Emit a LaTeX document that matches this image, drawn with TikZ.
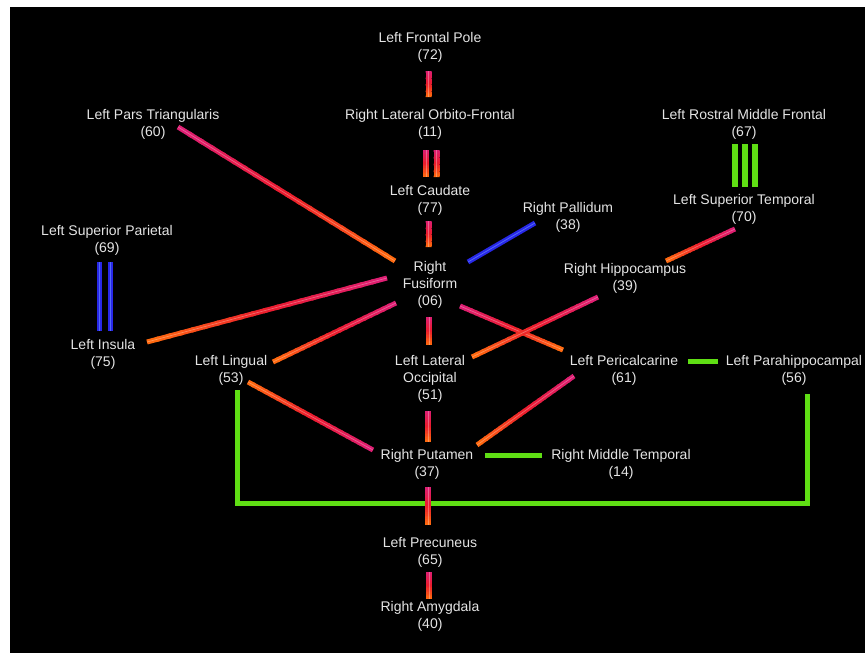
\documentclass[tikz,border=0pt]{standalone}
\usepackage{fontspec}
\setmainfont{Liberation Sans}
\usetikzlibrary{calc}
\definecolor{tpink}{RGB}{222,30,115}
\definecolor{tred}{RGB}{235,28,45}
\definecolor{torange}{RGB}{255,105,15}
\definecolor{tblue}{RGB}{40,40,232}
\definecolor{tblueedge}{RGB}{110,150,255}
\definecolor{tgreen}{RGB}{95,222,20}
\definecolor{labelgray}{RGB}{228,228,228}
% gradient tube: #2 = pink end, #3 = orange end
\newcommand{\pinktube}[3][5]{%
  \foreach \i in {0,...,19}{%
    \pgfmathsetmacro\ta{\i/20}%
    \pgfmathsetmacro\tb{min(1,(\i+1.3)/20)}%
    \pgfmathtruncatemacro\pc{round(\i*200/19)}%
    \ifnum\pc<100 \colorlet{segc}{tred!\pc!tpink}\else\pgfmathtruncatemacro\pd{\pc-100}\colorlet{segc}{torange!\pd!tred}\fi
    \draw[line width=#1pt, segc] ($(#2)!\ta!(#3)$) -- ($(#2)!\tb!(#3)$);
  }%
  \draw[line width=0.7pt, white, opacity=0.3] (#2) -- (#3);
}
\newcommand{\bluetube}[2]{%
  \draw[line width=5pt, tblue] (#1) -- (#2);
  \draw[line width=0.8pt, tblueedge, opacity=0.6] (#1) -- (#2);
}
\begin{document}
\begin{tikzpicture}[x=1pt,y=-1pt,
  lab/.style={text=labelgray, font=\fontsize{14}{17}\selectfont, align=center, inner sep=0pt},
  greentube/.style={line width=5pt, tgreen}]
\fill[white] (0,0) rectangle (865,653);
\fill[black] (10,7) rectangle (865,653);
\useasboundingbox (0,0) rectangle (865,653);

% labels
\node[lab] (fp)   at (430,47)    {Left Frontal Pole\\(72)};
\node[lab] (lof)  at (430,124)   {Right Lateral Orbito-Frontal\\(11)};
\node[lab] (cau)  at (430,200)   {Left Caudate\\(77)};
\node[lab] (fus)  at (430,284.5) {Right\\Fusiform\\(06)};
\node[lab] (pars) at (153,124)   {Left Pars Triangularis\\(60)};
\node[lab] (rmf)  at (744,124)   {Left Rostral Middle Frontal\\(67)};
\node[lab] (sut)  at (744,209)   {Left Superior Temporal\\(70)};
\node[lab] (pal)  at (568,217)   {Right Pallidum\\(38)};
\node[lab] (sup)  at (107,240)   {Left Superior Parietal\\(69)};
\node[lab] (hip)  at (625,278)   {Right Hippocampus\\(39)};
\node[lab] (ins)  at (103,354)   {Left Insula\\(75)};
\node[lab] (lin)  at (231,370)   {Left Lingual\\(53)};
\node[lab] (loc)  at (430,378.5) {Left Lateral\\Occipital\\(51)};
\node[lab] (peri) at (624,370)   {Left Pericalcarine\\(61)};
\node[lab] (para) at (794,370)   {Left Parahippocampal\\(56)};
\node[lab] (put)  at (427,464)   {Right Putamen\\(37)};
\node[lab] (mt)   at (621,464)   {Right Middle Temporal\\(14)};
\node[lab] (prec) at (430,552)   {Left Precuneus\\(65)};
\node[lab] (amy)  at (430,616)   {Right Amygdala\\(40)};

% connector end points
\coordinate (c1a) at (428.5,71);  \coordinate (c1b) at (428.5,97);
\coordinate (c2a) at (426,150);   \coordinate (c2b) at (426,177);
\coordinate (c2c) at (436.5,150); \coordinate (c2d) at (436.5,177);
\coordinate (c3a) at (428.5,221); \coordinate (c3b) at (428.5,247);
\coordinate (c4a) at (429,317);   \coordinate (c4b) at (429,345);
\coordinate (c5a) at (428,411);   \coordinate (c5b) at (428,442);
\coordinate (c6a) at (428,487);   \coordinate (c6b) at (428,525);
\coordinate (c7a) at (429,572);   \coordinate (c7b) at (429,599);
\coordinate (d1a) at (178,127);   \coordinate (d1b) at (395,261);
\coordinate (d2a) at (147,342);   \coordinate (d2b) at (387,278);
\coordinate (d3a) at (273,362);   \coordinate (d3b) at (396,303);
\coordinate (d4a) at (460,306);   \coordinate (d4b) at (563,350);
\coordinate (d5a) at (472,357);   \coordinate (d5b) at (598,297);
\coordinate (d6a) at (468,262);   \coordinate (d6b) at (535,223);
\coordinate (d7a) at (666,261);   \coordinate (d7b) at (735,229);
\coordinate (d8a) at (574,376);   \coordinate (d8b) at (477,445);
\coordinate (d9a) at (248,382);   \coordinate (d9b) at (373,450);
\coordinate (b1a) at (99,262);    \coordinate (b1b) at (99,331);
\coordinate (b2a) at (110,262);   \coordinate (b2b) at (110,331);
\coordinate (g1a) at (735,144);   \coordinate (g1b) at (735,187);
\coordinate (g2a) at (744.5,144); \coordinate (g2b) at (744.5,187);
\coordinate (g3a) at (755,144);   \coordinate (g3b) at (755,187);
\coordinate (g4a) at (688,361);   \coordinate (g4b) at (718,361);
\coordinate (g5a) at (485,455);   \coordinate (g5b) at (542,455);
\coordinate (gua) at (237,390);   \coordinate (gub) at (807,394);

% green connectors
\draw[greentube, line width=6pt] (g1a) -- (g1b);
\draw[greentube, line width=6pt] (g2a) -- (g2b);
\draw[greentube, line width=6pt] (g3a) -- (g3b);
\draw[greentube] (g4a) -- (g4b);
\draw[greentube] (g5a) -- (g5b);
\draw[greentube, line join=miter] (gua) -- ++(0,113) -| (gub);

% blue connectors
\bluetube{b1a}{b1b}
\bluetube{b2a}{b2b}
\bluetube{d6a}{d6b}

% pink/orange connectors (pink end first)
\pinktube[6]{c1a}{c1b}
\pinktube[6]{c2a}{c2b}
\pinktube[6]{c2c}{c2d}
\pinktube[6]{c3a}{c3b}
\pinktube[6]{c4a}{c4b}
\pinktube[6]{c5a}{c5b}
\pinktube[6]{c6a}{c6b}
\pinktube[6]{c7a}{c7b}
\pinktube{d1a}{d1b}
\pinktube{d2b}{d2a}
\pinktube{d3b}{d3a}
\pinktube{d4a}{d4b}
\pinktube{d5b}{d5a}
\pinktube{d7b}{d7a}
\pinktube{d8a}{d8b}
\pinktube{d9b}{d9a}
\end{tikzpicture}
\end{document}
